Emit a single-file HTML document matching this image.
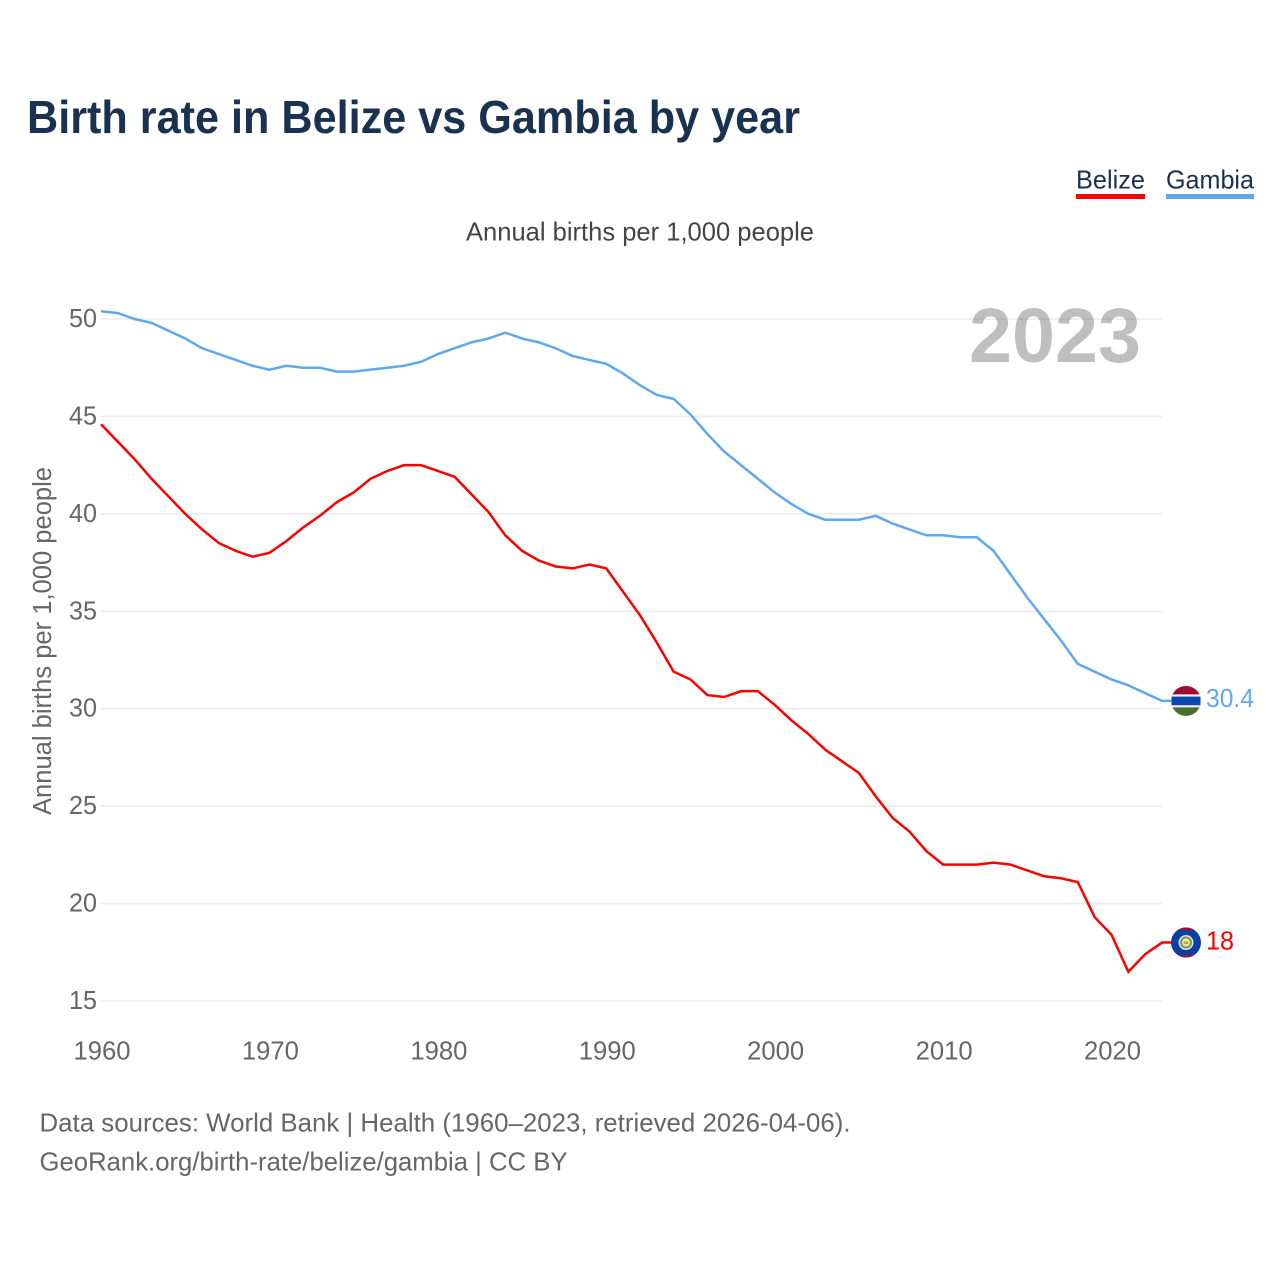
<!DOCTYPE html>
<html>
<head>
<meta charset="utf-8">
<title>Birth rate in Belize vs Gambia by year</title>
<style>
html,body{margin:0;padding:0;background:#fff;width:1280px;height:1280px;overflow:hidden}
svg{display:block}
text{font-family:"Liberation Sans",sans-serif}
</style>
</head>
<body>
<svg id="chart" xmlns="http://www.w3.org/2000/svg" width="1280" height="1280" viewBox="0 0 1280 1280">
  <rect x="0" y="0" width="1280" height="1280" fill="#fff"/>
  <text x="27" y="133" font-size="46" font-weight="700" fill="#1a3150" textLength="773" lengthAdjust="spacingAndGlyphs">Birth rate in Belize vs Gambia by year</text>
  <g>
    <text x="1076" y="188.5" font-size="26" fill="#1a3150" textLength="69" lengthAdjust="spacingAndGlyphs">Belize</text>
    <rect x="1076" y="194" width="69" height="5" fill="#ff0000"/>
  </g>
  <g>
    <text x="1166" y="188.5" font-size="26" fill="#1a3150" textLength="88" lengthAdjust="spacingAndGlyphs">Gambia</text>
    <rect x="1166" y="194" width="88" height="5" fill="#5fa8ef"/>
  </g>
  <text x="466" y="240.5" font-size="26" fill="#444" textLength="348" lengthAdjust="spacingAndGlyphs">Annual births per 1,000 people</text>
  <text transform="translate(51,815) rotate(-90)" x="0" y="0" font-size="25.5" fill="#666" textLength="348" lengthAdjust="spacingAndGlyphs">Annual births per 1,000 people</text>
  <g id="grid"></g>
  <g id="yticks"></g>
  <g id="xticks"></g>
  <text x="969" y="362" font-size="77" font-weight="700" fill="#000" fill-opacity="0.25" textLength="172" lengthAdjust="spacingAndGlyphs">2023</text>
  <g id="series"></g>
  <g id="flag-gambia">
    <circle cx="0" cy="0" r="15" fill="#eef0f2"/>
    <path d="M-13.5,-6.5 A15,15 0 0 1 13.5,-6.5 Z" fill="#9e0b2e"/>
    <path d="M-13.5,6.5 A15,15 0 0 0 13.5,6.5 Z" fill="#4c6e2e"/>
    <rect x="-14.5" y="-4.3" width="29" height="8.6" fill="#0a47b0"/>
  </g>
  <g id="flag-belize">
    <circle cx="0" cy="0" r="15" fill="#0b3fa0"/>
    <path d="M-8,-12.7 A15,15 0 0 1 8,-12.7 Z" fill="#a3122f"/>
    <path d="M-8,12.7 A15,15 0 0 0 8,12.7 Z" fill="#a3122f"/>
    <circle cx="0" cy="0" r="7.5" fill="#dfe6d6"/>
    <circle cx="0" cy="0" r="6" fill="#6f9a63"/>
    <circle cx="0" cy="0" r="4" fill="#f0e8b0"/>
    <rect x="-2.4" y="-1.2" width="4.8" height="2.8" fill="#c9a83a"/>
  </g>
  <text id="value-gambia" x="1206" y="706" font-size="26" fill="#5fa8ef" textLength="48" lengthAdjust="spacingAndGlyphs">30.4</text>
  <text id="value-belize" x="1206" y="948" font-size="26" fill="#ff0000" textLength="28" lengthAdjust="spacingAndGlyphs">18</text>
  <text x="39.5" y="1131.5" font-size="26" fill="#666" textLength="811" lengthAdjust="spacingAndGlyphs">Data sources: World Bank | Health (1960–2023, retrieved 2026-04-06).</text>
  <text x="39.5" y="1170.5" font-size="26" fill="#666" textLength="528" lengthAdjust="spacingAndGlyphs">GeoRank.org/birth-rate/belize/gambia | CC BY</text>
</svg>
<script>
const firstYear = 1960;
const yTickValues = [15, 20, 25, 30, 35, 40, 45, 50];
const xTickValues = [1960, 1970, 1980, 1990, 2000, 2010, 2020];
const belizeValues = [
  44.6,43.7,42.8,41.8,40.9,40.0,39.2,38.5,38.1,37.8,
  38.0,38.6,39.3,39.9,40.6,41.1,41.8,42.2,42.5,42.5,
  42.2,41.9,41.0,40.1,38.9,38.1,37.6,37.3,37.2,37.4,
  37.2,36.0,34.8,33.4,31.9,31.5,30.7,30.6,30.9,30.9,
  30.2,29.4,28.7,27.9,27.3,26.7,25.5,24.4,23.7,22.7,
  22.0,22.0,22.0,22.1,22.0,21.7,21.4,21.3,21.1,19.3,
  18.4,16.5,17.4,18.0
];
const gambiaValues = [
  50.4,50.3,50.0,49.8,49.4,49.0,48.5,48.2,47.9,47.6,
  47.4,47.6,47.5,47.5,47.3,47.3,47.4,47.5,47.6,47.8,
  48.2,48.5,48.8,49.0,49.3,49.0,48.8,48.5,48.1,47.9,
  47.7,47.2,46.6,46.1,45.9,45.1,44.1,43.2,42.5,41.8,
  41.1,40.5,40.0,39.7,39.7,39.7,39.9,39.5,39.2,38.9,
  38.9,38.8,38.8,38.1,36.9,35.7,34.6,33.5,32.3,31.9,
  31.5,31.2,30.8,30.4
];

const SVG_NS = 'http://www.w3.org/2000/svg';
const xPos = year => 101 + (year - 1960) * (1111.5 - 101) / 60;
const yPos = value => 1001 - (value - 15) * (1001 - 319) / 35;

const gridGroup = document.getElementById('grid');
const yTickGroup = document.getElementById('yticks');
const xTickGroup = document.getElementById('xticks');
const seriesGroup = document.getElementById('series');

yTickValues.forEach(v => {
  const line = document.createElementNS(SVG_NS, 'line');
  
  
  line.setAttribute('x1', 101);
  line.setAttribute('x2', 1162);
  line.setAttribute('y1', yPos(v));
  line.setAttribute('y2', yPos(v));
  line.setAttribute('stroke', '#ececec');
  line.setAttribute('stroke-width', '1.6');
  gridGroup.appendChild(line);

  const label = document.createElementNS(SVG_NS, 'text');
  
  
  label.setAttribute('x', 97);
  label.setAttribute('y', yPos(v) + 8);
  label.setAttribute('text-anchor', 'end');
  label.setAttribute('font-size', '26');
  label.setAttribute('fill', '#666');
  label.setAttribute('textLength', '28');
  label.setAttribute('lengthAdjust', 'spacingAndGlyphs');
  label.textContent = v;
  yTickGroup.appendChild(label);
});

xTickValues.forEach(v => {
  const label = document.createElementNS(SVG_NS, 'text');
  
  
  label.setAttribute('x', xPos(v) + 1);
  label.setAttribute('y', 1059.5);
  label.setAttribute('text-anchor', 'middle');
  label.setAttribute('font-size', '26');
  label.setAttribute('fill', '#666');
  label.setAttribute('textLength', '57');
  label.setAttribute('lengthAdjust', 'spacingAndGlyphs');
  label.textContent = v;
  xTickGroup.appendChild(label);
});

function linePath(values) {
  let d = values.map((v, i) => (i ? 'L' : 'M') + xPos(firstYear + i).toFixed(2) + ',' + yPos(v).toFixed(2)).join(' ');
  return d + ' H1171';
}

const gambiaLine = document.createElementNS(SVG_NS, 'path');


gambiaLine.setAttribute('d', linePath(gambiaValues));
gambiaLine.setAttribute('fill', 'none');
gambiaLine.setAttribute('stroke', '#5fa8ef');
gambiaLine.setAttribute('stroke-width', '2.5');
seriesGroup.appendChild(gambiaLine);

const belizeLine = document.createElementNS(SVG_NS, 'path');


belizeLine.setAttribute('d', linePath(belizeValues));
belizeLine.setAttribute('fill', 'none');
belizeLine.setAttribute('stroke', '#ff0000');
belizeLine.setAttribute('stroke-width', '2.5');
seriesGroup.appendChild(belizeLine);

const lastGambia = gambiaValues[gambiaValues.length - 1];
const lastBelize = belizeValues[belizeValues.length - 1];
document.getElementById('flag-gambia').setAttribute('transform', 'translate(1186,' + yPos(lastGambia) + ')');
document.getElementById('flag-belize').setAttribute('transform', 'translate(1186,' + yPos(lastBelize) + ')');
document.getElementById('value-gambia').setAttribute('y', yPos(lastGambia) + 6);
document.getElementById('value-belize').setAttribute('y', yPos(lastBelize) + 7);
document.getElementById('value-gambia').textContent = lastGambia;
document.getElementById('value-belize').textContent = lastBelize;
</script>
</body>
</html>
